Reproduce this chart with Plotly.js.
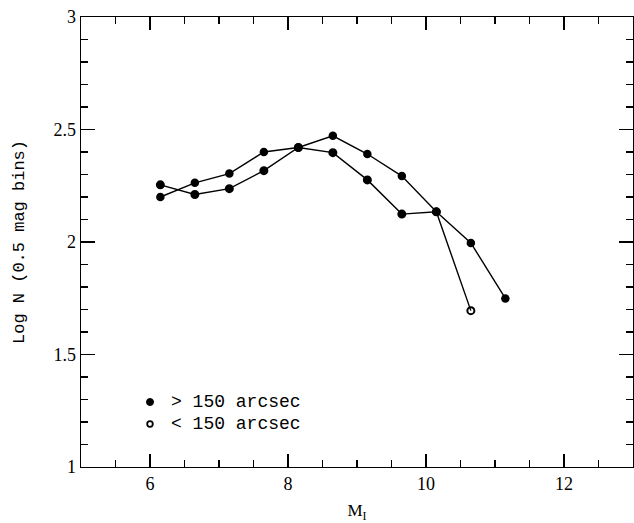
<!DOCTYPE html>
<html>
<head>
<meta charset="utf-8">
<script src="https://cdn.plot.ly/plotly-3.0.1.min.js"></script>
<style>html,body{margin:0;padding:0;background:#fff}</style>
</head>
<body>
<div id="chart" style="width:634px;height:523px"></div>
<script>
// Magnitude bin centres (M_I)
const magOuter = [6.15, 6.65, 7.15, 7.65, 8.15, 8.65, 9.15, 9.65, 10.15, 10.65, 11.15];
const logNOuter = [2.20, 2.263, 2.304, 2.40, 2.42, 2.472, 2.391, 2.293, 2.134, 1.996, 1.749];
const magInner = [6.15, 6.65, 7.15, 7.65, 8.15, 8.65, 9.15, 9.65, 10.15, 10.65];
const logNInner = [2.254, 2.211, 2.237, 2.317, 2.42, 2.397, 2.276, 2.124, 2.134, 1.695];
const innerSymbols = ['circle','circle','circle','circle','circle','circle','circle','circle','circle','circle-open'];
const legendLabels = ['> 150 arcsec', '< 150 arcsec'];

const traces = [
  {x: magOuter, y: logNOuter, mode: 'lines+markers', showlegend: false,
   line: {color: '#000', width: 1.4},
   marker: {symbol: 'circle', size: 8.5, color: '#000'}},
  {x: magInner, y: logNInner, mode: 'lines+markers', showlegend: false,
   line: {color: '#000', width: 1.4},
   marker: {symbol: innerSymbols, size: 7, color: '#000', line: {color: '#000', width: 2}}}
];

const axisCommon = {
  showgrid: false, zeroline: false, showline: true, linecolor: '#000', linewidth: 1.3,
  mirror: 'allticks', ticks: 'inside', tickcolor: '#000', tickwidth: 1.3
};

// legend drawn as shapes + annotations (marker centre in paper coords, pixel-sized circles)
const legX = 0.125, legTextX = 0.1594, legY = [0.1444, 0.0956];
const shapes = [
  {type: 'circle', xref: 'paper', yref: 'paper', xsizemode: 'pixel', ysizemode: 'pixel',
   xanchor: legX, yanchor: legY[0], x0: -3.5, x1: 3.5, y0: -3.5, y1: 3.5,
   fillcolor: '#000', line: {color: '#000', width: 1}},
  {type: 'circle', xref: 'paper', yref: 'paper', xsizemode: 'pixel', ysizemode: 'pixel',
   xanchor: legX, yanchor: legY[1], x0: -2.8, x1: 2.8, y0: -2.8, y1: 2.8,
   fillcolor: '#fff', line: {color: '#000', width: 1.8}}
];
const annotations = legendLabels.map((t, i) => ({
  text: t, xref: 'paper', yref: 'paper', x: legTextX, y: legY[i],
  xanchor: 'left', yanchor: 'middle', showarrow: false,
  font: {family: 'Liberation Mono, monospace', size: 18, color: '#000'}
}));

const layout = {
  width: 634, height: 523,
  margin: {l: 81, r: 1, t: 17, b: 56},
  paper_bgcolor: '#fff', plot_bgcolor: '#fff',
  font: {family: 'Liberation Serif, serif', color: '#000', size: 18},
  showlegend: false,
  shapes: shapes,
  annotations: annotations,
  xaxis: Object.assign({}, axisCommon, {
    range: [5, 13], tickvals: [6, 8, 10, 12], ticklen: 13,
    minor: {dtick: 0.5, tick0: 5, ticks: 'inside', ticklen: 7, tickcolor: '#000', tickwidth: 1.2, showgrid: false},
    tickfont: {family: 'Liberation Serif, serif', size: 18},
    title: {text: 'M<sub>I</sub>', font: {family: 'Liberation Serif, serif', size: 17}, standoff: 11}
  }),
  yaxis: Object.assign({}, axisCommon, {
    range: [1, 3], tickvals: [1, 1.5, 2, 2.5, 3], ticktext: ['1', '1.5', '2', '2.5', '3'], ticklen: 14,
    minor: {dtick: 0.1, tick0: 1, ticks: 'inside', ticklen: 7, tickcolor: '#000', tickwidth: 1.2, showgrid: false},
    tickfont: {family: 'Liberation Serif, serif', size: 18},
    title: {text: 'Log N (0.5 mag bins)', font: {family: 'Liberation Mono, monospace', size: 17}, standoff: 24}
  })
};

Plotly.newPlot('chart', traces, layout, {displayModeBar: false, staticPlot: true});
</script>
</body>
</html>
